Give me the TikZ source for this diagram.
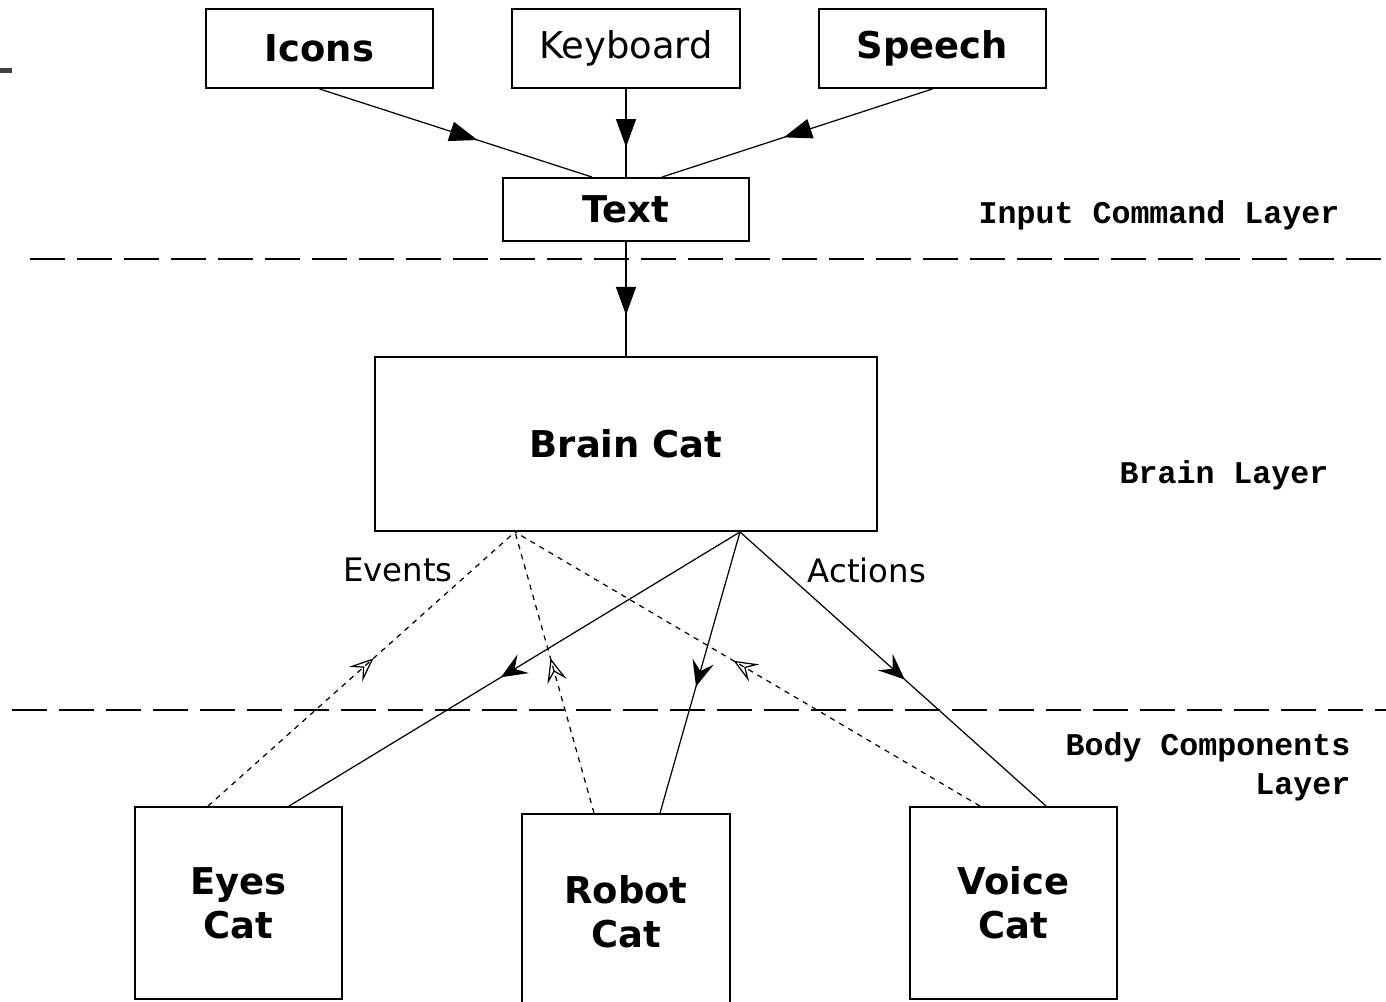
\documentclass[tikz,border=0pt]{standalone}
\usepackage{fontspec}
\setmainfont{DejaVu Sans}
\newfontfamily\layerfont{Liberation Mono}
\usepackage{tikz}
\usetikzlibrary{arrows.meta, decorations.markings}

\begin{document}
\begin{tikzpicture}[
    box/.style={draw, line width=0.55pt, inner sep=0pt, align=center,
        font=\fontsize{10.5}{12.5}\selectfont\bfseries},
    lbl/.style={inner sep=0pt, font=\fontsize{9.2}{11}\selectfont},
    layer/.style={inner sep=0pt, font=\fontsize{9}{11.1}\selectfont\layerfont\bfseries},
    layerline/.style={line width=0.55pt, dash pattern=on 0.35cm off 0.12cm},
    inarrow/.style={line width=0.35pt, postaction={decorate}, decoration={markings,
        mark=at position #1 with {\arrow{Triangle[length=0.28cm, width=0.2cm]}}}},
    actarrow/.style={line width=0.35pt, postaction={decorate}, decoration={markings,
        mark=at position #1 with {\arrow{Stealth[length=0.26cm, width=0.22cm, inset=0.1cm]}}}},
    evarrow/.style={line width=0.35pt, dash pattern=on 1.5pt off 1.5pt, postaction={decorate},
        decoration={markings,
        mark=at position #1 with {\arrow{Stealth[open, length=0.24cm, width=0.2cm, inset=0.1cm]}}}}
]
    \useasboundingbox (0,0) rectangle (13.86,-10.02);

    % stray mark on the left edge
    \fill[black!75] (0,-0.68) rectangle (0.12,-0.73);

    % layer separators
    \draw[layerline] (0.30,-2.59) -- (13.86,-2.59);
    \draw[layerline] (0.12,-7.10) -- (13.86,-7.10);

    % input commands
    \node[box, minimum width=2.27cm, minimum height=0.79cm] (icons) at (3.195,-0.485) {Icons};
    \node[box, minimum width=2.28cm, minimum height=0.79cm, font=\fontsize{10.5}{12.5}\selectfont]
        (keyboard) at (6.26,-0.485) {Keyboard};
    \node[box, minimum width=2.27cm, minimum height=0.79cm] (speech) at (9.325,-0.485) {Speech};
    \node[box, minimum width=2.46cm, minimum height=0.63cm] (txt) at (6.26,-2.095) {Text};

    % brain
    \node[box, minimum width=5.02cm, minimum height=1.74cm] (brain) at (6.26,-4.44) {Brain Cat};

    % body components
    \node[box, minimum width=2.07cm, minimum height=1.92cm] (eyes) at (2.385,-9.03) {Eyes\\Cat};
    \node[box, minimum width=2.08cm, minimum height=1.96cm] (robot) at (6.26,-9.12) {Robot\\Cat};
    \node[box, minimum width=2.07cm, minimum height=1.92cm] (voice) at (10.135,-9.03) {Voice\\Cat};

    % layer labels
    \node[layer] (inlayer) at (11.59,-2.15) {Input Command Layer};
    \node[layer] (brlayer) at (12.24,-4.75) {Brain Layer};
    \node[layer, align=right, anchor=east] (bodylayer) at (13.51,-7.67) {Body Components\\Layer};

    \node[lbl] (events) at (3.98,-5.70) {Events};
    \node[lbl] (actions) at (8.67,-5.70) {Actions};

    % inputs into text, text into brain
    \draw[inarrow=0.58] (icons.south) -- ([xshift=-3.4mm]txt.north);
    \draw[inarrow=0.66] (keyboard.south) -- (txt.north);
    \draw[inarrow=0.55] (speech.south) -- ([xshift=3.6mm]txt.north);
    \draw[inarrow=0.64] (txt.south) -- (brain.north);

    % actions
    \draw[actarrow=0.53] ([xshift=11.4mm]brain.south) -- ([xshift=5.05mm]eyes.north);
    \draw[actarrow=0.55] ([xshift=11.4mm]brain.south) -- ([xshift=3.4mm]robot.north);
    \draw[actarrow=0.54] ([xshift=11.4mm]brain.south) -- ([xshift=3.25mm]voice.north);

    % events
    \draw[evarrow=0.54] ([xshift=-3.05mm]eyes.north) -- ([xshift=-11.1mm]brain.south);
    \draw[evarrow=0.55] ([xshift=-3.2mm]robot.north) -- ([xshift=-11.1mm]brain.south);
    \draw[evarrow=0.53] ([xshift=-3.35mm]voice.north) -- ([xshift=-11.1mm]brain.south);
\end{tikzpicture}
\end{document}
